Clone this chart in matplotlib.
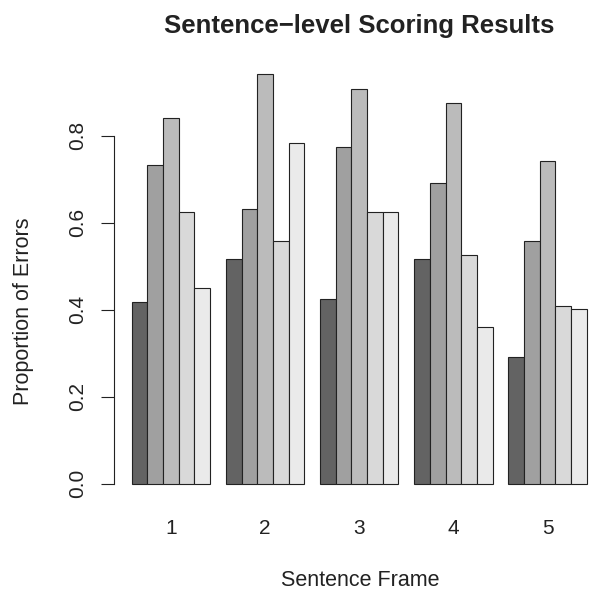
import numpy as np
import matplotlib.pyplot as plt

plt.rcParams['font.family'] = ['Liberation Sans', 'DejaVu Sans']
plt.rcParams['text.color'] = '#222222'
plt.rcParams['xtick.color'] = '#222222'
plt.rcParams['ytick.color'] = '#222222'

frames = ["1", "2", "3", "4", "5"]
# one row per bar within a group (R barplot beside=TRUE)
errors = [
    [0.417, 0.516, 0.424, 0.516, 0.292],
    [0.732, 0.632, 0.774, 0.691, 0.558],
    [0.841, 0.941, 0.907, 0.875, 0.742],
    [0.624, 0.557, 0.624, 0.526, 0.408],
    [0.450, 0.783, 0.624, 0.359, 0.401],
]
colors = ["#636363", "#a0a0a0", "#bbbbbb", "#d9d9d9", "#eaeaea"]
yticks = [0.0, 0.2, 0.4, 0.6, 0.8]

W, H = 592, 590
fig = plt.figure(figsize=(W / 100, H / 100), dpi=100)
# plot region in pixels (R's plot region runs past the right edge of the image)
left, right, top, bottom = 113.5, 605.0, 58.0, 500.0
ax = fig.add_axes([left / W, (H - bottom) / H, (right - left) / W, (bottom - top) / H])

n_bars = len(errors)
n_groups = len(frames)
for j, row in enumerate(errors):
    xs = [1 + g * (n_bars + 1) + j for g in range(n_groups)]
    ax.bar(xs, row, width=1, align='edge', color=colors[j],
           edgecolor='#222222', linewidth=0.8)

x_lo, x_hi = 1, n_groups * (n_bars + 1)
ext = (x_hi - x_lo) * 0.04
ax.set_xlim(x_lo - ext, x_hi + ext)
ymax = max(max(r) for r in errors)
ax.set_ylim(-ymax * 0.04, ymax * 1.04)

centers = [1 + g * (n_bars + 1) + n_bars / 2 for g in range(n_groups)]
ax.set_xticks(centers)
ax.set_xticklabels(frames, fontsize=15)
ax.tick_params(axis='x', length=0, pad=13.5)

ax.set_yticks(yticks)
ax.set_yticklabels([f"{v:.1f}" for v in yticks], fontsize=15,
                   rotation=90, va='center')
ax.tick_params(axis='y', length=9.4, width=0.8, pad=9.5)

for s in ['top', 'right', 'bottom']:
    ax.spines[s].set_visible(False)
ax.spines['left'].set_bounds(yticks[0], yticks[-1])
ax.spines['left'].set_linewidth(0.8)
ax.spines['left'].set_color('#222222')

fig.text(359.5 / W, (H - 33) / H, "Sentence\u2212level Scoring Results",
         ha='center', va='baseline', fontsize=18.5, fontweight='bold')
fig.text(360 / W, (H - 586) / H, "Sentence Frame",
         ha='center', va='baseline', fontsize=15.5)
fig.text(24 / W, 279 / H, "Proportion of Errors", rotation=90,
         ha='center', va='center', fontsize=15.5)

fig.savefig("out.png", dpi=100)
